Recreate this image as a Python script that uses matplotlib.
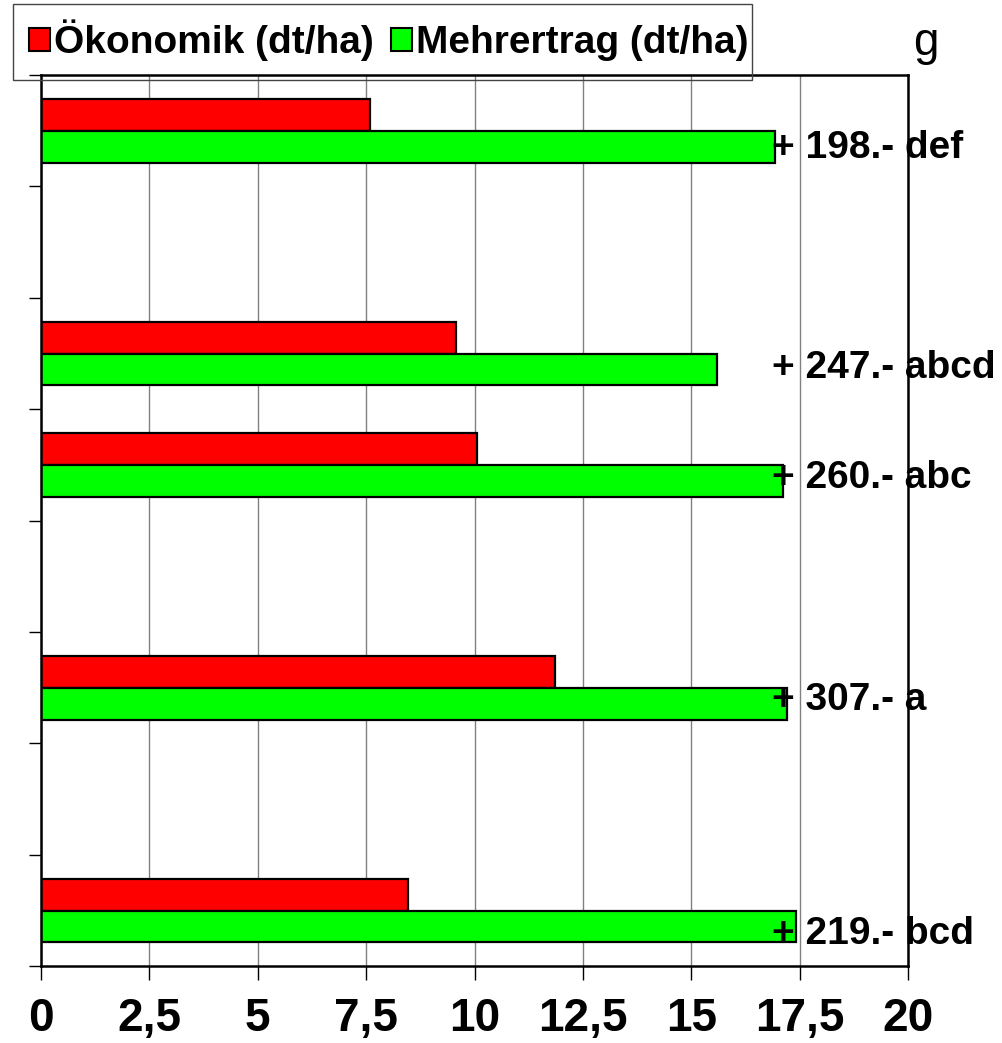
import numpy as np
import matplotlib
matplotlib.use("Agg")
import matplotlib.pyplot as plt
from matplotlib.patches import Patch, Rectangle

# ---- data ----
slots = ["A", "", "B", "C", "", "D", "", "E"]          # 8 category slots (empty = gap)
oekonomik = [7.6, np.nan, 9.57, 10.06, np.nan, 11.86, np.nan, 8.47]
mehrertrag = [16.93, np.nan, 15.59, 17.12, np.nan, 17.2, np.nan, 17.42]
labels = ["+ 198.- def", "", "+ 247.- abcd", "+ 260.- abc", "", "+ 307.- a", "", "+ 219.- bcd"]
xticks = [0, 2.5, 5, 7.5, 10, 12.5, 15, 17.5, 20]
xticklabels = ["0", "2,5", "5", "7,5", "10", "12,5", "15", "17,5", "20"]
legend_names = ["Ökonomik (dt/ha)", "Mehrertrag (dt/ha)"]

# ---- layout (not data) ----
label_x = 16.86
label_baseline = [0.745, 0, 0.72, 0.708, 0, 0.70, 0, 0.80]

plt.rcParams['font.family'] = ['Liberation Sans', 'DejaVu Sans']

W, H = 1002, 1043
fig = plt.figure(figsize=(W / 100, H / 100), dpi=100)
ax = fig.add_axes([41 / W, 1 - 966 / H, (908 - 41) / W, (966 - 75) / H])

n = len(slots)
pos = np.arange(n)
bh = 0.285
ax.barh(pos + 0.36, oekonomik, height=bh, color="#ff0000", edgecolor="black", linewidth=1.6, zorder=3)
ax.barh(pos + 0.645, mehrertrag, height=bh, color="#00ff00", edgecolor="black", linewidth=1.6, zorder=3)

for p, lab, b in zip(pos, labels, label_baseline):
    if lab:
        ax.text(label_x, p + b, lab, ha="left", va="baseline", fontsize=28,
                fontweight="bold", zorder=4)

ax.set_xlim(0, 20)
ax.set_ylim(n, 0)
ax.set_xticks(xticks)
ax.set_xticklabels(xticklabels, fontsize=33, fontweight="bold")
ax.set_yticks(np.arange(0, n + 1))
ax.set_yticklabels([])
ax.tick_params(axis="x", direction="out", length=10, width=1, pad=12)
ax.tick_params(axis="y", direction="out", length=8.6, width=1)
ax.grid(axis="x", color="#808080", linewidth=1, zorder=0)
ax.set_axisbelow(True)
for s in ax.spines.values():
    s.set_linewidth(1.8)
    s.set_color("black")
    s.set_zorder(5)

handles = [Patch(facecolor="#ff0000", edgecolor="black", linewidth=1.5),
           Patch(facecolor="#00ff00", edgecolor="black", linewidth=1.5)]
leg = fig.legend(handles, legend_names, loc="upper left",
                 bbox_to_anchor=(13 / W, 1 - 4 / H), ncol=2, frameon=False,
                 prop={"size": 28, "weight": "bold"}, handlelength=0.55,
                 handleheight=0.55, handletextpad=0.1, columnspacing=0.45,
                 borderpad=0.4, borderaxespad=0)
leg.set_zorder(10)

# legend frame box
fig.patches.append(Rectangle((13 / W, 1 - 80 / H), (752 - 13) / W, (80 - 4) / H,
                             transform=fig.transFigure, facecolor="none",
                             edgecolor="#444444", linewidth=1, zorder=9))

fig.text(926 / W, 1 - 55 / H, "g", ha="center", va="baseline", fontsize=33)

fig.savefig("out.png", dpi=100)
